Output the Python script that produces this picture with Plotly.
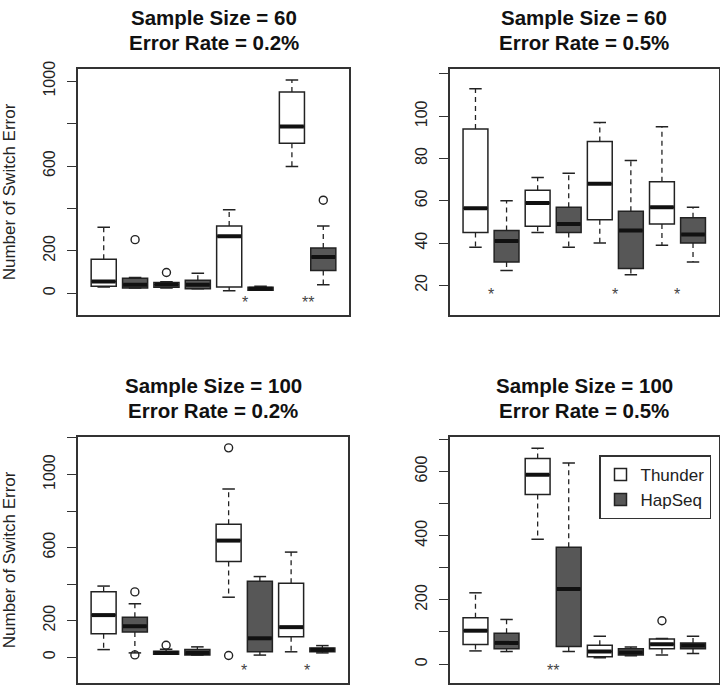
import plotly.graph_objects as go

# ---------------- data ----------------
# five-number summaries per group: (lower whisker, q1, median, q3, upper whisker)
GROUPS = [1, 2, 3, 4]

P1_THUNDER = [(30, 33, 56, 160, 311), (25, 28, 40, 51, 54), (12, 30, 269, 317, 394), (598, 707, 786, 949, 1006)]
P1_HAPSEQ = [(25, 25, 40, 71, 75), (22, 22, 40, 61, 95), (14, 14, 22, 28, 33), (40, 107, 171, 214, 317)]
P1_THUNDER_OUT = [(2, 98)]
P1_HAPSEQ_OUT = [(1, 253), (4, 439)]
P1_STARS = [(3, "*"), (4, "**")]

P2_THUNDER = [(38, 45, 56.5, 94, 113), (45, 48, 59, 65, 71), (40, 51, 68, 88, 97), (39, 49, 57, 69, 95)]
P2_HAPSEQ = [(27, 31, 41, 46, 60), (38, 45, 49, 57, 73), (25, 28, 46, 55, 79), (31, 40, 44, 52, 57)]
P2_THUNDER_OUT = []
P2_HAPSEQ_OUT = []
P2_STARS = [(1, "*"), (3, "*"), (4, "*")]

P3_THUNDER = [(41, 128, 230, 358, 389), (16, 16, 23, 32, 43), (328, 524, 638, 728, 921), (29, 112, 164, 405, 575)]
P3_HAPSEQ = [(23, 137, 169, 218, 292), (11, 11, 23, 41, 56), (11, 29, 103, 416, 441), (23, 29, 40, 50, 63)]
P3_THUNDER_OUT = [(2, 65), (3, 1146), (3, 9)]
P3_HAPSEQ_OUT = [(1, 357), (1, 12)]
P3_STARS = [(3, "*"), (4, "*")]

P4_THUNDER = [(41, 61, 104, 144, 222), (389, 528, 590, 640, 672), (20, 23, 39, 59, 87), (28, 48, 62, 78, 80)]
P4_HAPSEQ = [(39, 48, 66, 96, 139), (39, 55, 234, 364, 626), (26, 28, 36, 48, 53), (33, 48, 58, 66, 87)]
P4_THUNDER_OUT = [(4, 135)]
P4_HAPSEQ_OUT = []
P4_STARS = [(2, "**")]

TITLES_1 = ["Sample Size = 60", "Sample Size = 60", "Sample Size = 100", "Sample Size = 100"]
TITLES_2 = ["Error Rate = 0.2%", "Error Rate = 0.5%", "Error Rate = 0.2%", "Error Rate = 0.5%"]

Y_TICKS = [
    ([0, 200, 400, 600, 800, 1000], ["0", "200", "", "600", "", "1000"]),
    ([20, 40, 60, 80, 100, 120], ["20", "40", "60", "80", "100", ""]),
    ([0, 200, 400, 600, 800, 1000, 1200], ["0", "200", "", "600", "", "1000", ""]),
    ([0, 100, 200, 300, 400, 500, 600, 700], ["0", "", "200", "", "400", "", "600", ""]),
]
SERIES = ["Thunder", "HapSeq"]

# ---------------- layout / style ----------------
W, H = 720, 685
FONT = "Liberation Sans, Arial, sans-serif"
DARK = "#222222"
FRAME = "#333333"
FILLS = {"Thunder": "white", "HapSeq": "#575757"}
Y_RANGES = [(-104, 1056), (5.8, 122.2), (-142, 1203), (-59, 706)]
STAR_Y = [-44, 15.6, -73, -21]
X_RANGE = (0.18, 8.82)
# panel frames in pixels (left, right, top, bottom)
FRAMES = [(78, 349, 62, 311), (450, 718.5, 62, 311), (78, 348, 434.5, 683), (450, 718.5, 434.5, 683)]
TITLE_Y = [(10, 35), (10, 35), (382, 407), (382, 407)]
BOXW = 0.8
CAPW = 0.4

panels = [
    (P1_THUNDER, P1_HAPSEQ, P1_THUNDER_OUT, P1_HAPSEQ_OUT, P1_STARS),
    (P2_THUNDER, P2_HAPSEQ, P2_THUNDER_OUT, P2_HAPSEQ_OUT, P2_STARS),
    (P3_THUNDER, P3_HAPSEQ, P3_THUNDER_OUT, P3_HAPSEQ_OUT, P3_STARS),
    (P4_THUNDER, P4_HAPSEQ, P4_THUNDER_OUT, P4_HAPSEQ_OUT, P4_STARS),
]

fig = go.Figure()
annotations = []
layout_axes = {}

for i, (th, hs, th_out, hs_out, stars) in enumerate(panels):
    k = "" if i == 0 else str(i + 1)
    xa, ya = "x" + k, "y" + k
    l, r, t, b = FRAMES[i]
    layout_axes["xaxis" + k] = dict(
        domain=[l / W, r / W], anchor=ya, range=list(X_RANGE), showgrid=False, zeroline=False,
        showticklabels=False, ticks="", showline=True, mirror=True, linecolor=FRAME, linewidth=1.5,
    )
    tv, tt = Y_TICKS[i]
    layout_axes["yaxis" + k] = dict(
        domain=[1 - b / H, 1 - t / H], anchor=xa, range=list(Y_RANGES[i]), showgrid=False,
        zeroline=False, showline=True, mirror=True, linecolor=FRAME, linewidth=1.5,
        ticks="outside", ticklen=9, tickwidth=1.3, tickcolor=FRAME, tickvals=tv, ticktext=tt,
        tickangle=-90, ticklabelstandoff=6, tickfont=dict(family=FONT, size=16, color=DARK),
    )

    dash_x, dash_y, cap_x, cap_y, med_x, med_y, out_x, out_y = [], [], [], [], [], [], [], []
    for s, stats, outs in ((0, th, th_out), (1, hs, hs_out)):
        name = SERIES[s]
        pos = [2 * g - 1 + s for g in GROUPS]
        fig.add_trace(go.Box(
            x=pos, q1=[st[1] for st in stats], median=[st[2] for st in stats], q3=[st[3] for st in stats],
            lowerfence=[st[1] for st in stats], upperfence=[st[3] for st in stats],
            orientation="v", width=BOXW, whiskerwidth=0, boxpoints=False,
            fillcolor=FILLS[name], line=dict(color=DARK, width=1.5),
            name=name, legendgroup=name, showlegend=(i == 3), xaxis=xa, yaxis=ya, hoverinfo="skip",
        ))
        for p, (lo, q1, med, q3, hi) in zip(pos, stats):
            dash_x += [p, p, None, p, p, None]
            dash_y += [q3, hi, None, q1, lo, None]
            cap_x += [p - CAPW / 2, p + CAPW / 2, None, p - CAPW / 2, p + CAPW / 2, None]
            cap_y += [hi, hi, None, lo, lo, None]
            med_x += [p - BOXW / 2 + 0.02, p + BOXW / 2 - 0.02, None]
            med_y += [med, med, None]
        for g, v in outs:
            out_x.append(2 * g - 1 + s)
            out_y.append(v)

    fig.add_trace(go.Scatter(x=dash_x, y=dash_y, mode="lines", line=dict(color=DARK, width=1.3, dash="5px,4px"),
                             showlegend=False, xaxis=xa, yaxis=ya, hoverinfo="skip"))
    fig.add_trace(go.Scatter(x=cap_x, y=cap_y, mode="lines", line=dict(color=DARK, width=1.5),
                             showlegend=False, xaxis=xa, yaxis=ya, hoverinfo="skip"))
    fig.add_trace(go.Scatter(x=med_x, y=med_y, mode="lines", line=dict(color="#111111", width=4),
                             showlegend=False, xaxis=xa, yaxis=ya, hoverinfo="skip"))
    if out_x:
        fig.add_trace(go.Scatter(x=out_x, y=out_y, mode="markers",
                                 marker=dict(symbol="circle-open", size=8, color=DARK, line=dict(width=1.4)),
                                 showlegend=False, xaxis=xa, yaxis=ya, hoverinfo="skip"))

    for g, txt in stars:
        annotations.append(dict(x=2 * g - 0.5, y=STAR_Y[i], xref=xa, yref=ya, text=txt, showarrow=False,
                                font=dict(family=FONT, size=16, color="#444444"), xanchor="center", yanchor="middle"))

    for line_txt, ty in ((TITLES_1[i], TITLE_Y[i][0]), (TITLES_2[i], TITLE_Y[i][1])):
        annotations.append(dict(x=(l + r) / 2 / W, y=1 - ty / H, xref="paper", yref="paper",
                                text="<b>" + line_txt + "</b>", showarrow=False,
                                font=dict(family=FONT, size=20.5, color="#111111"),
                                xanchor="center", yanchor="middle"))
    if i in (0, 2):
        annotations.append(dict(x=9 / W, y=1 - (t + b) / 2 / H, xref="paper", yref="paper",
                                text="Number of Switch Error", textangle=-90, showarrow=False,
                                font=dict(family=FONT, size=17, color=DARK),
                                xanchor="center", yanchor="middle"))

fig.update_layout(
    width=W, height=H, margin=dict(l=0, r=0, t=0, b=0),
    paper_bgcolor="white", plot_bgcolor="white", boxmode="overlay",
    font=dict(family=FONT, color=DARK),
    legend=dict(x=599 / W, y=1 - 452.7 / H, xanchor="left", yanchor="top", bordercolor=FRAME, borderwidth=1.5,
                bgcolor="white", font=dict(family=FONT, size=17, color=DARK), tracegroupgap=0),
    annotations=annotations,
    **layout_axes,
)

fig.write_html("out.html", config={"displayModeBar": False},
               post_script="document.body.style.margin='0';document.body.style.overflow='hidden';")
